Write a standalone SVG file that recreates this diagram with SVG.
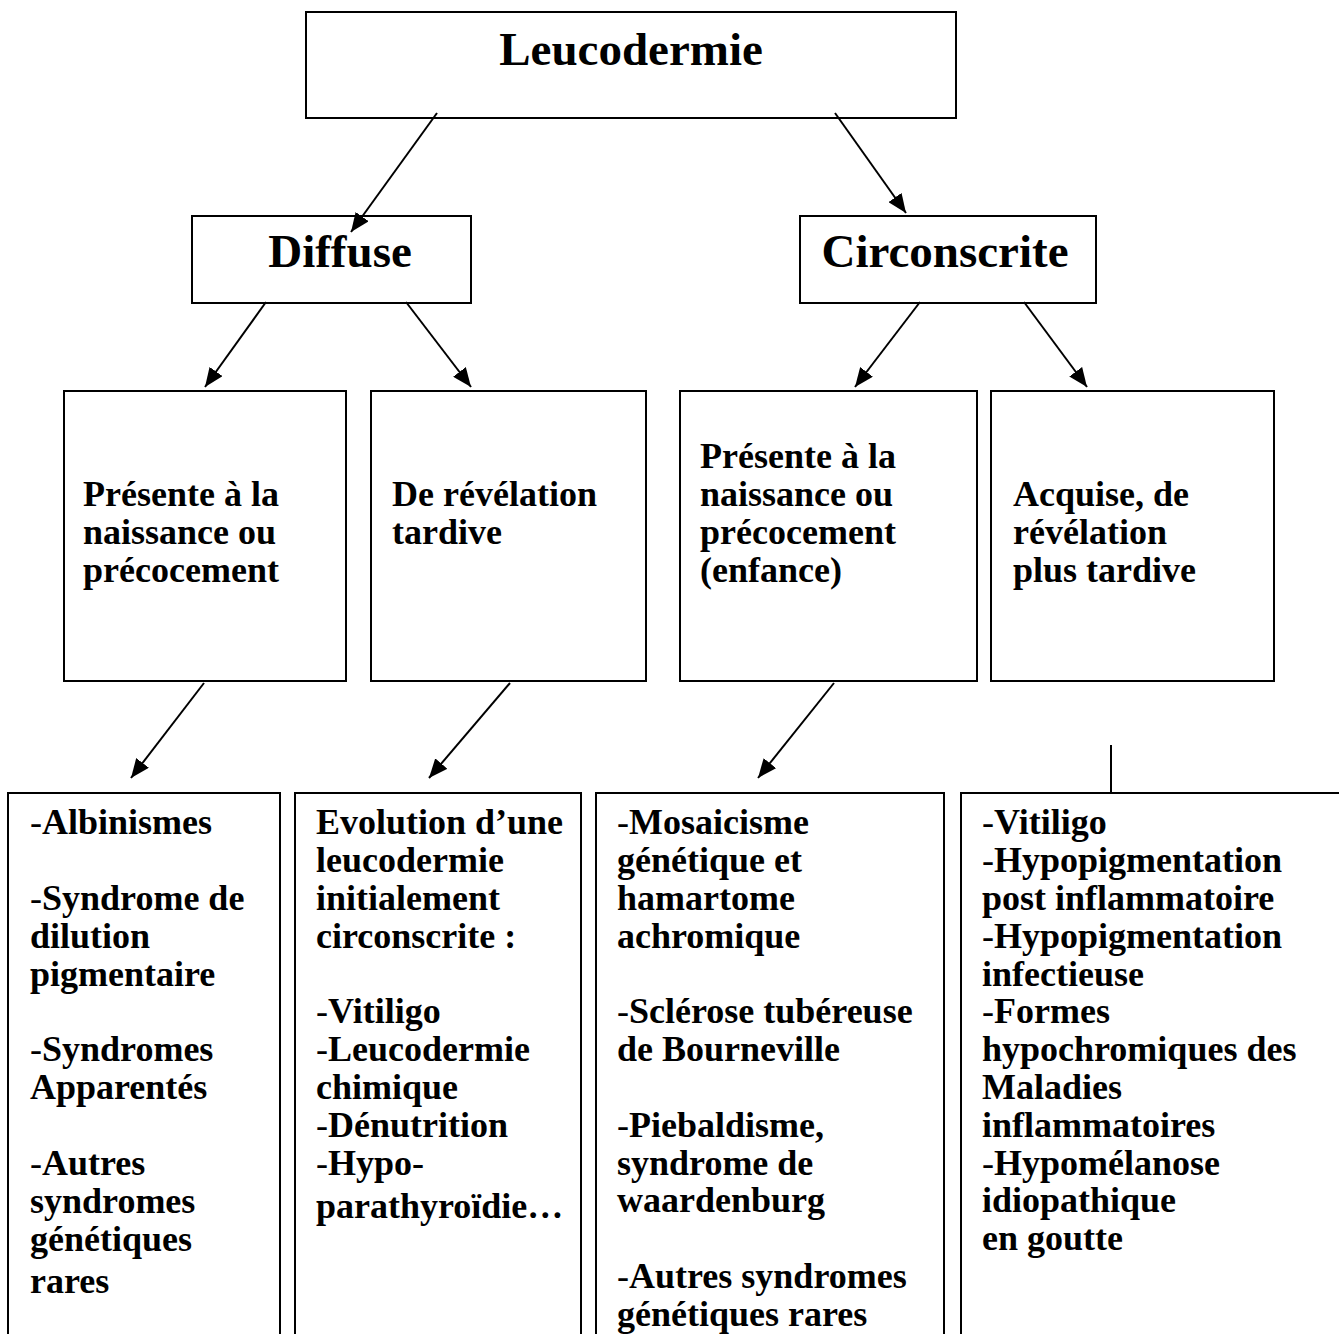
<svg xmlns="http://www.w3.org/2000/svg" width="1339" height="1334" viewBox="0 0 1339 1334">
<style>
.box{fill:#fff;stroke:#000;stroke-width:2}
.open{fill:none;stroke:#000;stroke-width:2}
.t{font-family:"Liberation Serif","Times New Roman",serif;font-weight:bold;fill:#000}
.title{font-size:47px}
.body{font-size:36px}
.h{font-weight:normal}
.conn line{stroke:#000;stroke-width:2}
</style>
<defs>
<marker id="ah" markerUnits="userSpaceOnUse" markerWidth="20" markerHeight="16" refX="19" refY="8" orient="auto">
<path d="M0,0 L19,8 L0,16 z" fill="#000"/>
</marker>
</defs>
<rect width="1339" height="1334" fill="#fff"/>

<g id="n-leucodermie">
<rect class="box" x="306" y="12" width="650" height="106"/>
<text class="t title" x="631" y="65" text-anchor="middle">Leucodermie</text>
</g>
<g id="n-diffuse">
<rect class="box" x="192" y="216" width="279" height="87"/>
<text class="t title" x="340" y="267" text-anchor="middle">Diffuse</text>
</g>
<g id="n-circonscrite">
<rect class="box" x="800" y="216" width="296" height="87"/>
<text class="t title" x="945" y="267" text-anchor="middle">Circonscrite</text>
</g>

<g id="n-diff-precoce">
<rect class="box" x="64" y="391" width="282" height="290"/>
<text class="t body"><tspan x="83" y="506">Présente à la</tspan><tspan x="83" y="544">naissance ou</tspan><tspan x="83" y="582">précocement</tspan></text>
</g>
<g id="n-diff-tardive">
<rect class="box" x="371" y="391" width="275" height="290"/>
<text class="t body"><tspan x="392" y="506">De révélation</tspan><tspan x="392" y="544">tardive</tspan></text>
</g>
<g id="n-circ-precoce">
<rect class="box" x="680" y="391" width="297" height="290"/>
<text class="t body"><tspan x="700" y="468">Présente à la</tspan><tspan x="700" y="506">naissance ou</tspan><tspan x="700" y="544">précocement</tspan><tspan x="700" y="582">(enfance)</tspan></text>
</g>
<g id="n-circ-acquise">
<rect class="box" x="991" y="391" width="283" height="290"/>
<text class="t body"><tspan x="1013" y="506">Acquise, de</tspan><tspan x="1013" y="544">révélation</tspan><tspan x="1013" y="582">plus tardive</tspan></text>
</g>

<g id="n-list1">
<path class="open" d="M8,1336 V793 H280 V1336"/>
<text class="t body">
<tspan x="30" y="834"><tspan class="h">-</tspan>Albinismes</tspan>
<tspan x="30" y="910"><tspan class="h">-</tspan>Syndrome de</tspan>
<tspan x="30" y="948">dilution</tspan>
<tspan x="30" y="986">pigmentaire</tspan>
<tspan x="30" y="1061"><tspan class="h">-</tspan>Syndromes</tspan>
<tspan x="30" y="1099">Apparentés</tspan>
<tspan x="30" y="1175"><tspan class="h">-</tspan>Autres</tspan>
<tspan x="30" y="1213">syndromes</tspan>
<tspan x="30" y="1251">génétiques</tspan>
<tspan x="30" y="1293">rares</tspan>
</text>
</g>
<g id="n-list2">
<path class="open" d="M295,1336 V793 H581 V1336"/>
<text class="t body">
<tspan x="316" y="834">Evolution d’une</tspan>
<tspan x="316" y="872">leucodermie</tspan>
<tspan x="316" y="910">initialement</tspan>
<tspan x="316" y="948">circonscrite :</tspan>
<tspan x="316" y="1023"><tspan class="h">-</tspan>Vitiligo</tspan>
<tspan x="316" y="1061"><tspan class="h">-</tspan>Leucodermie</tspan>
<tspan x="316" y="1099">chimique</tspan>
<tspan x="316" y="1137"><tspan class="h">-</tspan>Dénutrition</tspan>
<tspan x="316" y="1175"><tspan class="h">-</tspan>Hypo-</tspan>
<tspan x="316" y="1218">parathyroïdie…</tspan>
</text>
</g>
<g id="n-list3">
<path class="open" d="M596,1336 V793 H944 V1336"/>
<text class="t body">
<tspan x="617" y="834"><tspan class="h">-</tspan>Mosaicisme</tspan>
<tspan x="617" y="872">génétique et</tspan>
<tspan x="617" y="910">hamartome</tspan>
<tspan x="617" y="948">achromique</tspan>
<tspan x="617" y="1023"><tspan class="h">-</tspan>Sclérose tubéreuse</tspan>
<tspan x="617" y="1061">de Bourneville</tspan>
<tspan x="617" y="1137"><tspan class="h">-</tspan>Piebaldisme,</tspan>
<tspan x="617" y="1175">syndrome de</tspan>
<tspan x="617" y="1212">waardenburg</tspan>
<tspan x="617" y="1288"><tspan class="h">-</tspan>Autres syndromes</tspan>
<tspan x="617" y="1326">génétiques rares</tspan>
</text>
</g>
<g id="n-list4">
<path class="open" d="M961,1336 V793 H1341"/>
<text class="t body">
<tspan x="982" y="834"><tspan class="h">-</tspan>Vitiligo</tspan>
<tspan x="982" y="872"><tspan class="h">-</tspan>Hypopigmentation</tspan>
<tspan x="982" y="910">post inflammatoire</tspan>
<tspan x="982" y="948"><tspan class="h">-</tspan>Hypopigmentation</tspan>
<tspan x="982" y="986">infectieuse</tspan>
<tspan x="982" y="1023"><tspan class="h">-</tspan>Formes</tspan>
<tspan x="982" y="1061">hypochromiques des</tspan>
<tspan x="982" y="1099">Maladies</tspan>
<tspan x="982" y="1137">inflammatoires</tspan>
<tspan x="982" y="1175"><tspan class="h">-</tspan>Hypomélanose</tspan>
<tspan x="982" y="1212">idiopathique</tspan>
<tspan x="982" y="1250">en goutte</tspan>
</text>
</g>

<g id="connectors" class="conn">
<line x1="437" y1="113" x2="351" y2="232" marker-end="url(#ah)"/>
<line x1="835" y1="113" x2="906" y2="213" marker-end="url(#ah)"/>
<line x1="266" y1="302" x2="205" y2="387" marker-end="url(#ah)"/>
<line x1="406" y1="302" x2="471" y2="387" marker-end="url(#ah)"/>
<line x1="920" y1="302" x2="855" y2="387" marker-end="url(#ah)"/>
<line x1="1024" y1="302" x2="1087" y2="387" marker-end="url(#ah)"/>
<line x1="204" y1="683" x2="131" y2="778" marker-end="url(#ah)"/>
<line x1="510" y1="683" x2="429" y2="778" marker-end="url(#ah)"/>
<line x1="834" y1="683" x2="758" y2="778" marker-end="url(#ah)"/>
<line x1="1111" y1="745" x2="1111" y2="793"/>
</g>
</svg>
